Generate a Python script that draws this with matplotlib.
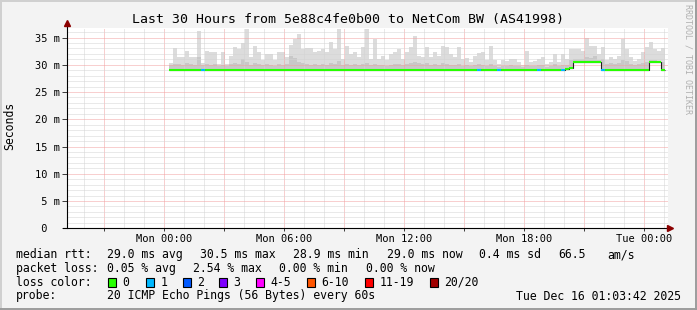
import matplotlib
matplotlib.use('Agg')
import matplotlib.pyplot as plt
from matplotlib.patches import Rectangle
from matplotlib.lines import Line2D
from matplotlib.ticker import MultipleLocator

plt.rcParams['font.family'] = 'DejaVu Sans Mono'

# ---- data (hours after Mon 00:00, 12 minute bins) ----
bin_start = 0.25
bin_width = 0.2

smoke_hi = [
    30.4, 33.1, 31.4, 31.4, 32.6, 31.4, 31.4, 36.2, 30.3, 32.6,
    32.3, 32.3, 30.1, 32.3, 30.1, 31.7, 33.3, 32.9, 34.0, 36.5,
    31.4, 33.5, 32.3, 30.8, 32.0, 32.0, 30.8, 32.3, 32.3, 31.4,
    33.7, 34.7, 35.6, 32.9, 33.1, 33.1, 32.3, 32.6, 32.9, 32.3,
    34.1, 32.9, 36.5, 31.1, 33.5, 32.0, 32.3, 31.4, 33.2, 36.5,
    31.1, 34.7, 31.1, 31.7, 30.8, 32.0, 32.3, 32.9, 31.1, 32.3,
    33.2, 35.2, 31.7, 31.4, 33.2, 31.4, 32.3, 31.7, 33.5, 33.2,
    32.0, 31.4, 33.3, 31.1, 31.2, 30.5, 31.7, 32.1, 32.3, 30.8,
    33.5, 30.8, 30.1, 30.8, 30.6, 31.1, 31.0, 30.5, 30.0, 32.6,
    30.5, 30.6, 31.1, 31.4, 30.1, 30.5, 32.0, 30.5, 31.9, 31.1,
    32.9, 32.9, 32.9, 32.6, 34.9, 33.4, 33.4, 32.0, 33.2, 30.8,
    31.4, 31.1, 31.7, 34.7, 32.9, 31.4, 30.6, 31.1, 32.3, 33.2,
    34.1, 32.9, 32.6, 33.0,
]

smoke_mid = [
    30.0, 30.2, 30.2, 30.0, 30.3, 30.2, 30.0, 31.5, 30.0, 30.2,
    30.0, 30.2, 29.8, 30.0, 29.8, 30.2, 30.4, 30.2, 31.1, 30.5,
    30.0, 30.4, 30.2, 30.0, 30.2, 30.0, 29.8, 30.2, 30.0, 30.2,
    31.6, 31.2, 30.5, 30.3, 30.2, 30.0, 30.2, 30.0, 30.2, 30.0,
    30.4, 30.2, 30.6, 30.0, 30.2, 30.0, 30.2, 30.0, 30.2, 30.4,
    30.0, 30.2, 29.9, 30.0, 29.8, 30.0, 30.2, 30.2, 30.0, 30.2,
    30.4, 30.5, 30.3, 30.2, 30.4, 30.0, 30.2, 30.0, 30.3, 30.2,
    30.0, 30.0, 30.2, 29.8, 29.9, 29.8, 30.0, 30.2, 30.0, 29.8,
    30.2, 29.7, 29.6, 29.8, 29.7, 29.9, 29.8, 29.7, 29.6, 30.0,
    29.7, 29.8, 29.9, 30.0, 29.6, 29.8, 30.2, 29.8, 30.0, 30.0,
    30.8, 31.0, 31.0, 31.0, 31.5, 31.2, 31.6, 30.8, 31.0, 30.2,
    30.4, 30.2, 30.4, 30.8, 30.6, 30.2, 30.0, 30.2, 30.3, 30.5,
    30.9, 30.8, 30.7, 30.5,
]

rtt_min = [28.9] * 99 + [29.1, 29.3] + [30.4] * 7 + [28.9] * 12 + [30.4] * 3 + [28.9]
median = [29.0] * 99 + [29.2, 29.4] + [30.5] * 7 + [29.0] * 12 + [30.5] * 3 + [29.0]
one_lost_bins = [8, 77, 82, 92, 98, 108]

loss_labels = ['0', '1', '2', '3', '4-5', '6-10', '11-19', '20/20']
loss_colors = ['#26ff00', '#00b8ff', '#0059ff', '#7e00ff', '#ff00ff', '#ff5500', '#ff0000', '#a10000']

y_ticks = [0, 5, 10, 15, 20, 25, 30, 35]
y_tick_labels = [' 0  ', ' 5 m', '10 m', '15 m', '20 m', '25 m', '30 m', '35 m']
x_ticks = [-3, 0, 3, 6, 9, 12, 15, 18, 21, 24]
x_tick_labels = ['', 'Mon 00:00', '', 'Mon 06:00', '', 'Mon 12:00', '', 'Mon 18:00', '', 'Tue 00:00']

W, H = 697, 310
fig = plt.figure(figsize=(W / 100, H / 100), dpi=100, facecolor='#f3f3f3')

def fx(x):
    return x / W

def fy(y):
    return 1 - y / H

def ftext(x, y, s, **kw):
    kw.setdefault('fontsize', 8.3)
    kw.setdefault('va', 'center')
    fig.text(fx(x), fy(y), s, **kw)

# plot area
left, right, top, bottom = 66.7, 668, 27.7, 228.3
ax = fig.add_axes([fx(left), fy(bottom), (right - left) / W, (bottom - top) / H])
ax.set_facecolor('white')
ax.set_xlim(-4.88, 25.2)
ax.set_ylim(0, 36.8)

n = len(smoke_hi)
starts = [bin_start + i * bin_width for i in range(n)]
ends = [s + bin_width for s in starts]

ax.bar(starts, [h - m for h, m in zip(smoke_hi, rtt_min)], bottom=rtt_min,
       width=bin_width, align='edge', color='#dcdcdc', linewidth=0, zorder=1)
ax.bar(starts, [h - m for h, m in zip(smoke_mid, rtt_min)], bottom=rtt_min,
       width=bin_width, align='edge', color='#c8c8c8', linewidth=0, zorder=1)

# median: thin dark step line below, loss coloured segments on top
edges = starts + [ends[-1]]
ax.stairs(median, edges, baseline=None, color='#202020', linewidth=0.8, zorder=3)
seg_colors = [loss_colors[1] if i in one_lost_bins else loss_colors[0] for i in range(n)]
ax.hlines(median, starts, ends, colors=seg_colors, linewidth=1.5, zorder=4)

# grid
ax.xaxis.set_major_locator(MultipleLocator(3))
ax.xaxis.set_minor_locator(MultipleLocator(1))
ax.yaxis.set_minor_locator(MultipleLocator(1))
ax.set_axisbelow(False)
ax.grid(which='minor', color='#d4d4d4', linestyle=(0, (1, 1)), linewidth=0.72)
ax.grid(which='major', color='#f2a0a0', linestyle=(0, (1, 1)), linewidth=0.72)

ax.set_xticks(x_ticks, x_tick_labels)
ax.set_yticks(y_ticks, y_tick_labels)
ax.tick_params(axis='x', which='major', length=2.2, width=0.72, color='#404040',
               labelsize=7.5, pad=2)
ax.tick_params(axis='y', which='major', length=3.6, width=0.72, color='#404040',
               labelsize=7.5, pad=1.2)
ax.tick_params(which='minor', length=0)
for lab in ax.get_yticklabels():
    lab.set_horizontalalignment('right')

for s in ax.spines.values():
    s.set_visible(False)

# axis lines with arrows
ax.add_line(Line2D([0, 0], [0, 1 + 5 / 200.6], transform=ax.transAxes,
                   color='black', linewidth=0.8, clip_on=False, zorder=5))
ax.add_line(Line2D([-4 / 601, 1 + 2 / 601], [0, 0], transform=ax.transAxes,
                   color='black', linewidth=0.8, clip_on=False, zorder=5))
ax.plot([0], [1 + 5 / 200.6], marker='^', markersize=4.5, color='#8b0000',
        transform=ax.transAxes, clip_on=False, zorder=6)
ax.plot([1 + 2 / 601], [0], marker='>', markersize=4.5, color='#8b0000',
        transform=ax.transAxes, clip_on=False, zorder=6)

# titles
ftext(348, 19.5, 'Last 30 Hours from 5e88c4fe0b00 to NetCom BW (AS41998)',
      fontsize=9.5, ha='center')
ftext(10, 126, 'Seconds', rotation=90, ha='center')
fig.text(fx(688), fy(4), 'RRDTOOL / TOBI OETIKER', rotation=270, ha='center', va='top',
         fontsize=6, color='#b0b0b0')

# legend rows
row_y = [254.5, 268.3, 282.3, 296]
ftext(16, row_y[0], 'median rtt:')
for x, s in zip([107, 200, 293, 387, 479, 558, 607],
                ['29.0 ms avg', '30.5 ms max', '28.9 ms min', '29.0 ms now',
                 '0.4 ms sd', '66.5', 'am/s']):
    ftext(x, row_y[0], s)

ftext(16, row_y[1], 'packet loss:')
for x, s in zip([107, 193, 279, 366],
                ['0.05 % avg', '2.54 % max', '0.00 % min', '0.00 % now']):
    ftext(x, row_y[1], s)

ftext(16, row_y[2], 'loss color:')
box_x = [108, 146, 183, 219, 256, 307, 365, 430]
for bx, lab, col in zip(box_x, loss_labels, loss_colors):
    fig.add_artist(Rectangle((fx(bx), fy(row_y[2] + 4.2)), 8 / W, 8.4 / H,
                             transform=fig.transFigure, facecolor=col,
                             edgecolor='black', linewidth=0.8))
    ftext(bx + 14.5, row_y[2], lab)

ftext(16, row_y[3], 'probe:')
ftext(107, row_y[3], '20 ICMP Echo Pings (56 Bytes) every 60s')
ftext(681, row_y[3], 'Tue Dec 16 01:03:42 2025', ha='right')

# image border (rrdtool shade)
fig.add_artist(Line2D([0, 1], [fy(0.7), fy(0.7)], transform=fig.transFigure, color='#d0d0d0', linewidth=1.4))
fig.add_artist(Line2D([fx(0.7), fx(0.7)], [0, 1], transform=fig.transFigure, color='#d0d0d0', linewidth=1.4))
fig.add_artist(Line2D([0, 1], [fy(H - 1), fy(H - 1)], transform=fig.transFigure, color='#9c9c9c', linewidth=1.4))
fig.add_artist(Line2D([fx(W - 1), fx(W - 1)], [0, 1], transform=fig.transFigure, color='#9c9c9c', linewidth=1.4))

fig.savefig('out.png', dpi=100, facecolor=fig.get_facecolor())
